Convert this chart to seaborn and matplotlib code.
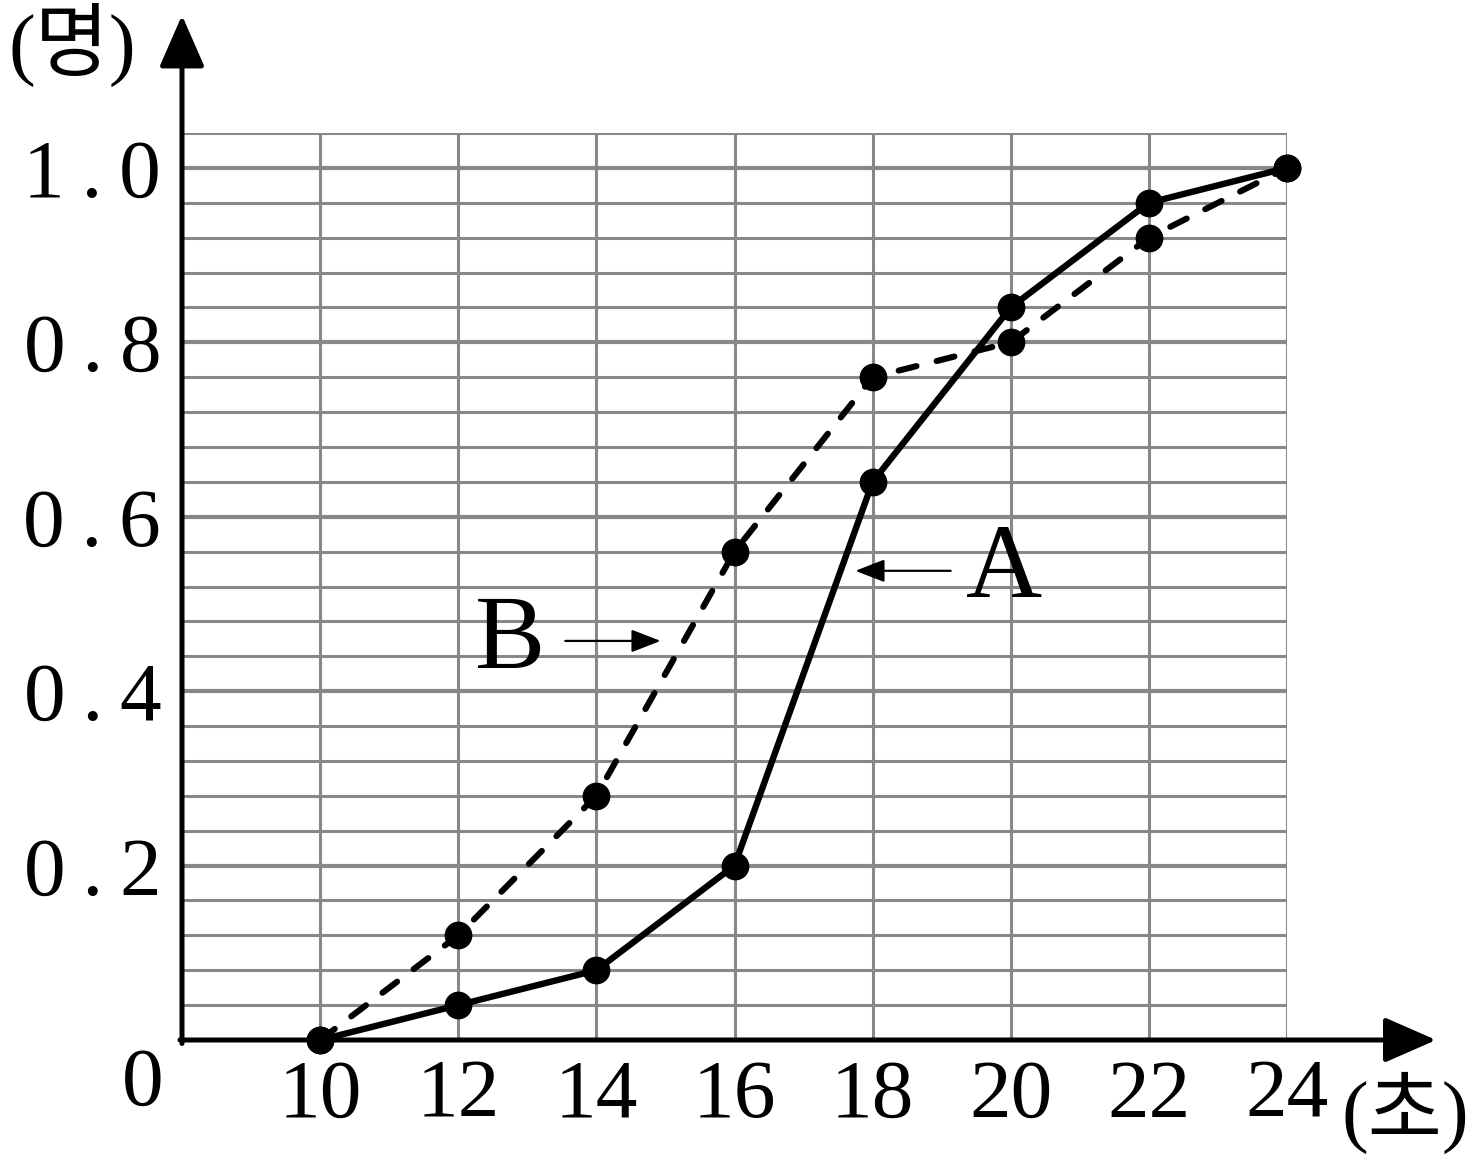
import numpy as np
import pandas as pd
import matplotlib
matplotlib.use('Agg')
import matplotlib.pyplot as plt
import seaborn as sns

# data
seconds = [10, 12, 14, 16, 18, 20, 22, 24]
share_a = [0.0, 0.04, 0.08, 0.20, 0.64, 0.84, 0.96, 1.0]
share_b = [0.0, 0.12, 0.28, 0.56, 0.76, 0.80, 0.92, 1.0]
y_ticks = [0.2, 0.4, 0.6, 0.8, 1.0]
y_tick_labels = ['0\u2009.\u20092', '0\u2009.\u20094', '0\u2009.\u20096', '0\u2009.\u20098', '1\u2009.\u20090']
x_tick_labels = [str(s) for s in seconds]

sns.set_style('white', {'text.color': 'black', 'xtick.color': 'black', 'ytick.color': 'black'})
plt.rcParams['font.family'] = ['Liberation Serif', 'Noto Sans CJK KR']

fig = plt.figure(figsize=(14.76, 11.67), dpi=100)
ax = fig.add_axes([182 / 1476, 127 / 1167, 1105 / 1476, 907 / 1167])
ax.set_xlim(8, 24)
ax.set_ylim(0, 1.04)
for s in ax.spines.values():
	s.set_visible(False)

# grid
grid_col = '#888888'
for i in range(1, 27):
	yv = i * 0.04
	major = i % 5 == 0
	ax.axhline(yv, color=grid_col, lw=3.0 if major else 2.2, zorder=1)
for xv in seconds:
	ax.axvline(xv, color=grid_col, lw=2.2, zorder=1)

# axes with arrow heads
ax.annotate('', xy=(26.16, 0), xytext=(7.97, 0), annotation_clip=False,
			arrowprops=dict(arrowstyle='-|>,head_length=1.6,head_width=0.7', mutation_scale=20,
							lw=3.6, color='black', shrinkA=0, shrinkB=0), zorder=5)
ax.annotate('', xy=(8, 1.175), xytext=(8, -0.004), annotation_clip=False,
			arrowprops=dict(arrowstyle='-|>,head_length=1.6,head_width=0.7', mutation_scale=20,
							lw=3.6, color='black', shrinkA=0, shrinkB=0), zorder=5)

df = pd.DataFrame({'sec': seconds, 'A': share_a, 'B': share_b})
sns.lineplot(data=df, x='sec', y='B', ax=ax, color='black', lw=4.4, marker='o', markersize=20,
			 markeredgewidth=0, linestyle=(0, (3.0, 3.4)), dash_capstyle='round', clip_on=False, zorder=6)
sns.lineplot(data=df, x='sec', y='A', ax=ax, color='black', lw=4.6, marker='o', markersize=20,
			 markeredgewidth=0, clip_on=False, zorder=7)

# ticks
ax.set_xticks(seconds)
ax.set_xticklabels(x_tick_labels, fontsize=60)
ax.set_yticks(y_ticks)
ax.set_yticklabels(y_tick_labels, fontsize=60)
ax.tick_params(axis='both', length=0)
ax.tick_params(axis='x', pad=14)
ax.tick_params(axis='y', pad=15)
ax.set_xlabel('')
ax.set_ylabel('')

ax.text(7.43, -0.052, '0', fontsize=60, ha='center', va='center')
ax.text(25.72, -0.083, '(초)', fontsize=58, ha='center', va='center')
ax.text(6.41, 1.141, '(명)', fontsize=58, ha='center', va='center')

# labels with small arrows
ax.text(12.75, 0.456, 'B', fontsize=76, ha='center', va='center')
ax.annotate('', xy=(14.93, 0.4576), xytext=(13.55, 0.4576),
			arrowprops=dict(arrowstyle='-|>,head_length=1.8,head_width=0.7', mutation_scale=10,
							lw=1.6, color='black', shrinkA=0, shrinkB=0))
ax.text(19.9, 0.537, 'A', fontsize=76, ha='center', va='center')
ax.annotate('', xy=(17.75, 0.538), xytext=(19.13, 0.538),
			arrowprops=dict(arrowstyle='-|>,head_length=1.8,head_width=0.7', mutation_scale=10,
							lw=1.6, color='black', shrinkA=0, shrinkB=0))

fig.savefig('out.png', dpi=100)
